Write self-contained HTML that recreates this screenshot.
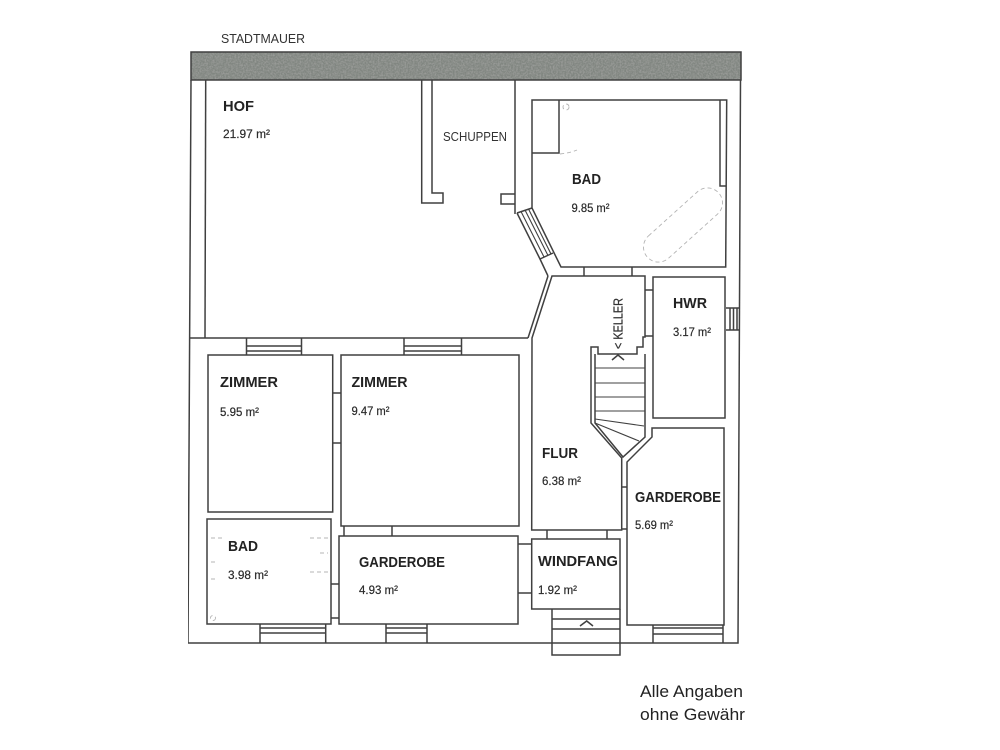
<!DOCTYPE html>
<html lang="de">
<head>
<meta charset="utf-8">
<title>Grundriss</title>
<style>
html,body{margin:0;padding:0;background:#fff;width:1000px;height:750px;overflow:hidden}
svg{display:block}
.l{fill:none;stroke:#3f3f3f;stroke-width:1.5;stroke-linejoin:miter}
.t{stroke-width:1.1}
.d{fill:none;stroke:#b4b4b4;stroke-width:.9;stroke-dasharray:4 3}
text{font-family:"Liberation Sans",sans-serif;fill:#2a2a2a}
.b{font-weight:bold;font-size:15px;fill:#222}
.a{font-size:12px;stroke:#2a2a2a;stroke-width:.2}
.n{font-size:13px;fill:#333}
.c{font-size:17px;fill:#222}
</style>
</head>
<body>
<svg width="1000" height="750" viewBox="0 0 1000 750" xmlns="http://www.w3.org/2000/svg">
<defs>
<filter id="noise" x="0" y="0" width="100%" height="100%">
<feTurbulence type="fractalNoise" baseFrequency="0.6" numOctaves="2" seed="4" result="n"/>
<feColorMatrix in="n" type="matrix" values="0 0 0 0 0.22  0 0 0 0 0.24  0 0 0 0 0.22  0 0 0 2.4 -0.55" result="m"/>
<feFlood flood-color="#999b98"/>
<feComposite in="m" operator="over"/>
</filter>
<filter id="soft" x="0" y="0" width="100%" height="100%"><feGaussianBlur stdDeviation="0.35"/></filter>
</defs>
<rect width="1000" height="750" fill="#fff"/>
<g filter="url(#soft)">
<!-- Stadtmauer -->
<rect x="191" y="52" width="550" height="28" filter="url(#noise)"/>
<rect x="191" y="52" width="550" height="28" class="l"/>

<!-- outer walls -->
<path class="l" d="M191 80L188 643L738 643L740.500 80"/>
<path class="l" d="M205.700 80L205 338"/>
<path class="l" d="M190 338H528"/>

<!-- shed -->
<path class="l" d="M421.700 80V203H443V193H432V80"/>
<path class="l" d="M515 80V214"/>
<path class="l" d="M515 194H501V204H515"/>

<!-- bath top -->
<path class="l" d="M532 100H726.700L725.700 267H561L532 208Z"/>
<path class="l" d="M532 153H559V100"/>
<path class="l" d="M720 100V186H726"/>
<path class="l" d="M517 213L532 208M517 213L540 259L548 276M540 259L553 253"/>
<path class="l t" d="M521 211.500L544 257M525 210L548 255.500M528.500 209L551 254"/>
<path class="d" transform="rotate(-42 683 225)" d="M650 210H716A15 15 0 0 1 716 240H650A15 15 0 0 1 650 210Z"/>
<circle cx="566" cy="107" r="3" class="d" stroke-dasharray="2 1"/>
<path class="d" stroke-dasharray="2 2" d="M560 154Q570 153 577 150"/>

<!-- flur -->
<path class="l" d="M552 276H645V337H643V347H637V354H598V347H591V423L621.700 458V530H531.700L532 338Z"/>
<path class="l" d="M548 276L528 338"/>
<path class="l" d="M584 267V276M632 267V276"/>

<!-- stairs -->
<path class="l" d="M595 354V423L623 457L645 437V354"/>
<path class="l t" d="M595 368H645M595 383H645M595 397H645M595 411H645M595 419L644 426M595 423L639 441"/>
<path class="l" d="M612 360L618 355L624 360"/>

<!-- HWR -->
<rect class="l" x="653" y="277" width="72" height="141"/>
<path class="l" d="M645 290H653M645 336H653"/>
<path class="l" d="M726 308H739M726 330H739M730 308V330M733.500 308V330M737 308V330"/>

<!-- garderobe right -->
<path class="l" d="M652 428H724V625H627V462L652 437Z"/>
<path class="l" d="M621.700 487H627M621.700 529H627"/>
<path class="l" d="M653 625V643M723 625V643M653 628H723M653 634H723"/>

<!-- rooms -->
<rect class="l" x="208" y="355" width="124.700" height="157"/>
<rect class="l" x="341" y="355" width="178" height="171"/>
<rect class="l" x="207" y="519" width="124" height="105"/>
<rect class="l" x="339" y="536" width="179" height="88"/>
<rect class="l" x="531.700" y="539" width="88.300" height="70"/>

<!-- top windows -->
<path class="l" d="M246.500 338V355M301.500 338V355M246.500 346H301.500M246.500 351H301.500"/>
<path class="l" d="M404 338V355M461.500 338V355M404 346H461.500M404 351H461.500"/>
<!-- bottom windows -->
<path class="l" d="M260 624V643M325.700 624V643M260 628H325.700M260 633H325.700"/>
<path class="l" d="M386 624V643M427 624V643M386 628H427M386 633H427"/>

<!-- door marks -->
<path class="l" d="M333 393H341M333 443H341"/>
<path class="l" d="M344 526V536M392 526V536"/>
<path class="l" d="M331 584H339M331 618H339"/>
<path class="l" d="M518 544H532M518 593H532"/>
<path class="l" d="M547 530V539M607 530V539"/>

<!-- entrance steps -->
<path class="l" d="M552 609V655H620V609"/>
<path class="l" d="M552 619H620M552 629H620"/>
<path class="l" d="M580 626L586.700 621L593 626"/>

<!-- faint bath fixtures -->
<path class="d" d="M211 538H222M310 538H329M211 562H217M320 553H328M310 572H329M211 579H218"/>
<circle cx="213" cy="618" r="2.500" class="d" stroke-dasharray="2 1"/>

<!-- labels -->
<text class="n" x="221" y="43" textLength="84" lengthAdjust="spacingAndGlyphs">STADTMAUER</text>
<text class="b" x="223" y="111" textLength="31" lengthAdjust="spacingAndGlyphs">HOF</text>
<text class="a" x="223" y="138" textLength="47" lengthAdjust="spacingAndGlyphs">21.97 m²</text>
<text class="n" x="443" y="141" textLength="64" lengthAdjust="spacingAndGlyphs">SCHUPPEN</text>
<text class="b" x="572" y="184" textLength="29" lengthAdjust="spacingAndGlyphs">BAD</text>
<text class="a" x="571.500" y="212" textLength="38" lengthAdjust="spacingAndGlyphs">9.85 m²</text>
<text class="b" x="673" y="308" textLength="34" lengthAdjust="spacingAndGlyphs">HWR</text>
<text class="a" x="673" y="336" textLength="38" lengthAdjust="spacingAndGlyphs">3.17 m²</text>
<text class="b" x="220" y="387" textLength="58" lengthAdjust="spacingAndGlyphs">ZIMMER</text>
<text class="a" x="220" y="416" textLength="39" lengthAdjust="spacingAndGlyphs">5.95 m²</text>
<text class="b" x="351.500" y="387" textLength="56" lengthAdjust="spacingAndGlyphs">ZIMMER</text>
<text class="a" x="351.500" y="415" textLength="38" lengthAdjust="spacingAndGlyphs">9.47 m²</text>
<text class="b" x="228" y="551" textLength="30" lengthAdjust="spacingAndGlyphs">BAD</text>
<text class="a" x="228" y="579" textLength="40" lengthAdjust="spacingAndGlyphs">3.98 m²</text>
<text class="b" x="359" y="567" textLength="86" lengthAdjust="spacingAndGlyphs">GARDEROBE</text>
<text class="a" x="359" y="594" textLength="39" lengthAdjust="spacingAndGlyphs">4.93 m²</text>
<text class="b" x="542" y="458" textLength="36" lengthAdjust="spacingAndGlyphs">FLUR</text>
<text class="a" x="542" y="485" textLength="39" lengthAdjust="spacingAndGlyphs">6.38 m²</text>
<text class="b" x="635" y="502" textLength="86" lengthAdjust="spacingAndGlyphs">GARDEROBE</text>
<text class="a" x="635" y="529" textLength="38" lengthAdjust="spacingAndGlyphs">5.69 m²</text>
<text class="b" x="538" y="566" textLength="80" lengthAdjust="spacingAndGlyphs">WINDFANG</text>
<text class="a" x="538" y="594" textLength="39" lengthAdjust="spacingAndGlyphs">1.92 m²</text>
<text class="n" transform="translate(622.500 349) rotate(-90)" textLength="51" lengthAdjust="spacingAndGlyphs" stroke="#333" stroke-width=".25">&lt; KELLER</text>
<text class="c" x="640" y="697" textLength="103" lengthAdjust="spacingAndGlyphs">Alle Angaben</text>
<text class="c" x="640" y="720" textLength="105" lengthAdjust="spacingAndGlyphs">ohne Gewähr</text>
</g>
</svg>
</body>
</html>
